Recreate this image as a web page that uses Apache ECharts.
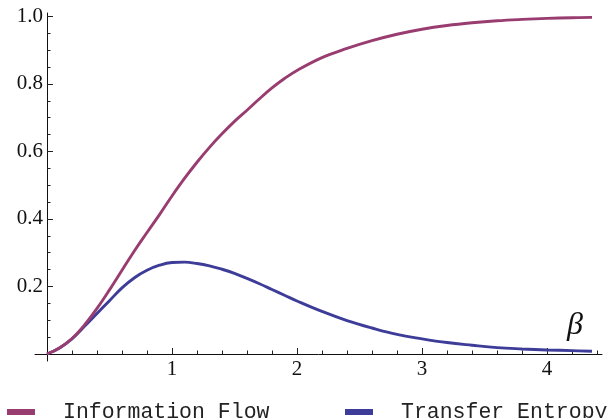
<!DOCTYPE html>
<html>
<head>
<meta charset="utf-8">
<script src="https://cdn.jsdelivr.net/npm/echarts@6/dist/echarts.min.js"></script>
<style>html,body{margin:0;padding:0;background:#fff}#c{width:607px;height:418px}</style>
</head>
<body>
<div id="c"></div>
<script>
const beta = [0,0.1,0.2,0.3,0.4,0.5,0.6,0.7,0.8,0.9,1.0,1.1,1.2,1.3,1.4,1.5,1.6,1.7,1.8,1.9,2.0,2.2,2.4,2.6,2.8,3.0,3.2,3.4,3.6,3.8,4.0,4.2,4.36];
const infoFlow = [0,0.018,0.046,0.086,0.135,0.19,0.248,0.306,0.36,0.413,0.468,0.52,0.568,0.612,0.652,0.689,0.722,0.756,0.788,0.816,0.84,0.878,0.905,0.928,0.947,0.962,0.973,0.981,0.987,0.991,0.994,0.996,0.997];
const transferEntropy = [0,0.018,0.045,0.082,0.12,0.158,0.196,0.226,0.248,0.263,0.271,0.272,0.268,0.261,0.251,0.239,0.224,0.208,0.191,0.174,0.157,0.126,0.099,0.077,0.058,0.045,0.034,0.026,0.019,0.015,0.012,0.010,0.008];
const xMajor = [1,2,3,4];
const xMinor = [0.2,0.4,0.6,0.8,1.2,1.4,1.6,1.8,2.2,2.4,2.6,2.8,3.2,3.4,3.6,3.8,4.2,4.4];
const yMajor = [0.2,0.4,0.6,0.8,1.0];
const yMinor = [0.05,0.1,0.15,0.25,0.3,0.35,0.45,0.5,0.55,0.65,0.7,0.75,0.85,0.9,0.95];
const seriesNames = ['Information Flow','Transfer Entropy'];

const pink = '#993d71', blue = '#3d3d99';
const zip = (xs, ys) => xs.map((x, i) => [x, ys[i]]);
const serif = 'Liberation Serif';
const mono = 'Liberation Mono';
const X_MAX = 4.44, Y_MAX = 1.01;

const chart = echarts.init(document.getElementById('c'), null, {renderer:'canvas'});
const legendText = {fontFamily:mono, fontSize:21.5, color:'#222', padding:[0,0,0,23]};
const hiddenLine = {show:false, onZero:false};
const tickStyle = {color:'#222', width:1};
const mainGrid = {left:47, right:5, top:13, bottom:64};
chart.setOption({
  animation:false,
  grid:[
    mainGrid,
    Object.assign({}, mainGrid),
    {left:35, right:5, top:13, bottom:64},
    {left:47, right:5, top:13, bottom:57}
  ],
  legend:[
    {data:[seriesNames[0]], left:2, top:396, itemWidth:28, itemHeight:6, icon:'rect', textStyle:legendText},
    {data:[seriesNames[1]], left:340, top:396, itemWidth:28, itemHeight:6, icon:'rect', textStyle:legendText}
  ],
  xAxis:[
    {gridIndex:0, type:'value', min:0, max:X_MAX, position:'bottom', splitLine:{show:false},
      axisLine:hiddenLine,
      axisTick:{show:true, inside:true, length:6, customValues:xMajor, lineStyle:tickStyle},
      axisLabel:{customValues:xMajor, margin:5, fontFamily:serif, fontSize:21, color:'#111'},
      name:'β', nameLocation:'end', nameGap:-19,
      nameTextStyle:{fontFamily:serif, fontStyle:'italic', fontSize:32, color:'#111', align:'right', verticalAlign:'bottom', padding:[0,0,12,0]}},
    {gridIndex:1, type:'value', min:0, max:X_MAX, position:'bottom', splitLine:{show:false},
      axisLine:hiddenLine,
      axisTick:{show:true, inside:true, length:3.5, customValues:xMinor, lineStyle:tickStyle},
      axisLabel:{show:false}},
    {gridIndex:2, type:'value', min:0, max:1, position:'bottom', splitLine:{show:false},
      axisLine:{show:true, onZero:false, lineStyle:{color:'#111', width:1}},
      axisTick:{show:false}, axisLabel:{show:false}},
    {gridIndex:3, type:'value', min:0, max:1, show:false}
  ],
  yAxis:[
    {gridIndex:0, type:'value', min:0, max:Y_MAX, position:'left', splitLine:{show:false},
      axisLine:hiddenLine,
      axisTick:{show:true, inside:true, length:6, customValues:yMajor, lineStyle:tickStyle},
      axisLabel:{customValues:yMajor, margin:4, fontFamily:serif, fontSize:21, color:'#111', formatter:v=>v.toFixed(1)}},
    {gridIndex:1, type:'value', min:0, max:Y_MAX, position:'left', splitLine:{show:false},
      axisLine:hiddenLine,
      axisTick:{show:true, inside:true, length:3.5, customValues:yMinor, lineStyle:tickStyle},
      axisLabel:{show:false}},
    {gridIndex:2, type:'value', min:0, max:1, show:false},
    {gridIndex:3, type:'value', min:0, max:1, position:'left', splitLine:{show:false},
      axisLine:{show:true, onZero:false, lineStyle:{color:'#111', width:1}},
      axisTick:{show:false}, axisLabel:{show:false}}
  ],
  series:[
    {name:seriesNames[1], type:'line', xAxisIndex:0, yAxisIndex:0, data:zip(beta, transferEntropy), showSymbol:false, smooth:0.4, lineStyle:{color:blue, width:2.9}, itemStyle:{color:blue}},
    {name:seriesNames[0], type:'line', xAxisIndex:0, yAxisIndex:0, data:zip(beta, infoFlow), showSymbol:false, smooth:0.4, lineStyle:{color:pink, width:2.9}, itemStyle:{color:pink}}
  ]
});
</script>
</body>
</html>
